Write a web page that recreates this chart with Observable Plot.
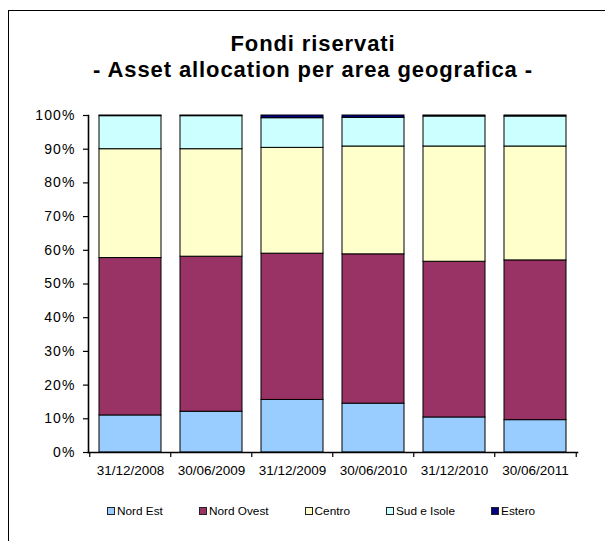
<!DOCTYPE html>
<html>
<head>
<meta charset="utf-8">
<script src="https://cdn.jsdelivr.net/npm/d3@7"></script>
<script src="https://cdn.jsdelivr.net/npm/@observablehq/plot@0.6"></script>
<style>
  html, body { margin: 0; padding: 0; background: #fff; }
  body { width: 605px; height: 541px; overflow: hidden; position: relative;
         font-family: "Liberation Sans", Arial, sans-serif; color: #000; }
  #frame { position: absolute; left: 8px; top: 10px; width: 620px; height: 560px;
           border-left: 1px solid #000; border-top: 1px solid #000; }
  #title { position: absolute; left: 21px; width: 584px; top: 31px; text-align: center;
           font-weight: bold; font-size: 22px; line-height: 25.5px; letter-spacing: 0.9px; }
  #chart { position: absolute; left: 0; top: 100px; }
  #chart g[aria-label="y-axis tick label"] { font-size: 14px; letter-spacing: 1.1px; }
  #legend { position: absolute; left: 107px; top: 504px; height: 14px; display: flex;
            align-items: center; gap: 36px; font-size: 11.8px; }
  .item { display: flex; align-items: center; white-space: nowrap; }
  .sw { width: 6px; height: 6px; border: 1px solid #222; margin-right: 2px; }
</style>
</head>
<body>
<div id="frame"></div>
<div id="title">Fondi riservati<br>- Asset allocation per area geografica -</div>
<div id="chart"></div>
<div id="legend"></div>
<script>
const dates = ["31/12/2008", "30/06/2009", "31/12/2009", "30/06/2010", "31/12/2010", "30/06/2011"];
const series = ["Nord Est", "Nord Ovest", "Centro", "Sud e Isole", "Estero"];
const colors = ["#99CCFF", "#993366", "#FFFFCC", "#CCFFFF", "#000080"];
const nordEst   = [11.0, 12.1, 15.6, 14.5, 10.4, 9.6];
const nordOvest = [46.7, 46.0, 43.4, 44.3, 46.2, 47.4];
const centro    = [32.3, 31.9, 31.4, 32.0, 34.2, 33.8];
const sudIsole  = [9.8, 9.8, 8.8, 8.5, 8.9, 8.9];
const estero    = [0.2, 0.2, 0.8, 0.7, 0.3, 0.3];
const yTicks = [0, 10, 20, 30, 40, 50, 60, 70, 80, 90, 100];

const valuesBySeries = [nordEst, nordOvest, centro, sudIsole, estero];
const rows = [];
series.forEach((s, si) => dates.forEach((d, di) => rows.push({date: d, serie: s, value: valuesBySeries[si][di]})));

const W = 605, H = 380;
const mL = 88, mR = 28, mT = 15, mB = 28;
const step = (W - mL - mR) / dates.length;
const plotH = H - mT - mB;

const chart = Plot.plot({
  width: W, height: H,
  marginLeft: mL, marginRight: mR, marginTop: mT, marginBottom: mB,
  style: {fontFamily: "'Liberation Sans', Arial, sans-serif", fontSize: "13.5px", color: "#000", background: "transparent"},
  x: {domain: dates, paddingInner: 0.23, paddingOuter: 0.115, label: null},
  y: {domain: [0, 100], label: null},
  color: {domain: series, range: colors},
  marks: [
    Plot.barY(rows, Plot.stackY({order: series}, {x: "date", y: "value", fill: "serie", stroke: "#000", strokeWidth: 1})),
    Plot.axisY({ticks: yTicks, tickFormat: d => d + "%", tickSize: 5, tickPadding: 8, label: null, stroke: "#000", strokeWidth: 1.2}),
    Plot.axisX({tickSize: 0, tickPadding: 13, label: null}),
    Plot.ruleX(dates, {x: d => d, dx: -step / 2, insetTop: plotH, insetBottom: -5, stroke: "#000", strokeWidth: 1.2}),
    Plot.ruleX(dates.slice(-1), {x: d => d, dx: step / 2, insetTop: plotH, insetBottom: -5, stroke: "#000", strokeWidth: 1.2}),
    Plot.frame({anchor: "left", stroke: "#000", strokeWidth: 1.6}),
    Plot.frame({anchor: "bottom", stroke: "#000", strokeWidth: 1.6})
  ]
});
document.getElementById("chart").appendChild(chart);

const legend = document.getElementById("legend");
series.forEach((s, i) => {
  const it = document.createElement("div");
  it.className = "item";
  const sw = document.createElement("span");
  sw.className = "sw";
  sw.style.background = colors[i];
  it.appendChild(sw);
  it.appendChild(document.createTextNode(s));
  legend.appendChild(it);
});
</script>
</body>
</html>
